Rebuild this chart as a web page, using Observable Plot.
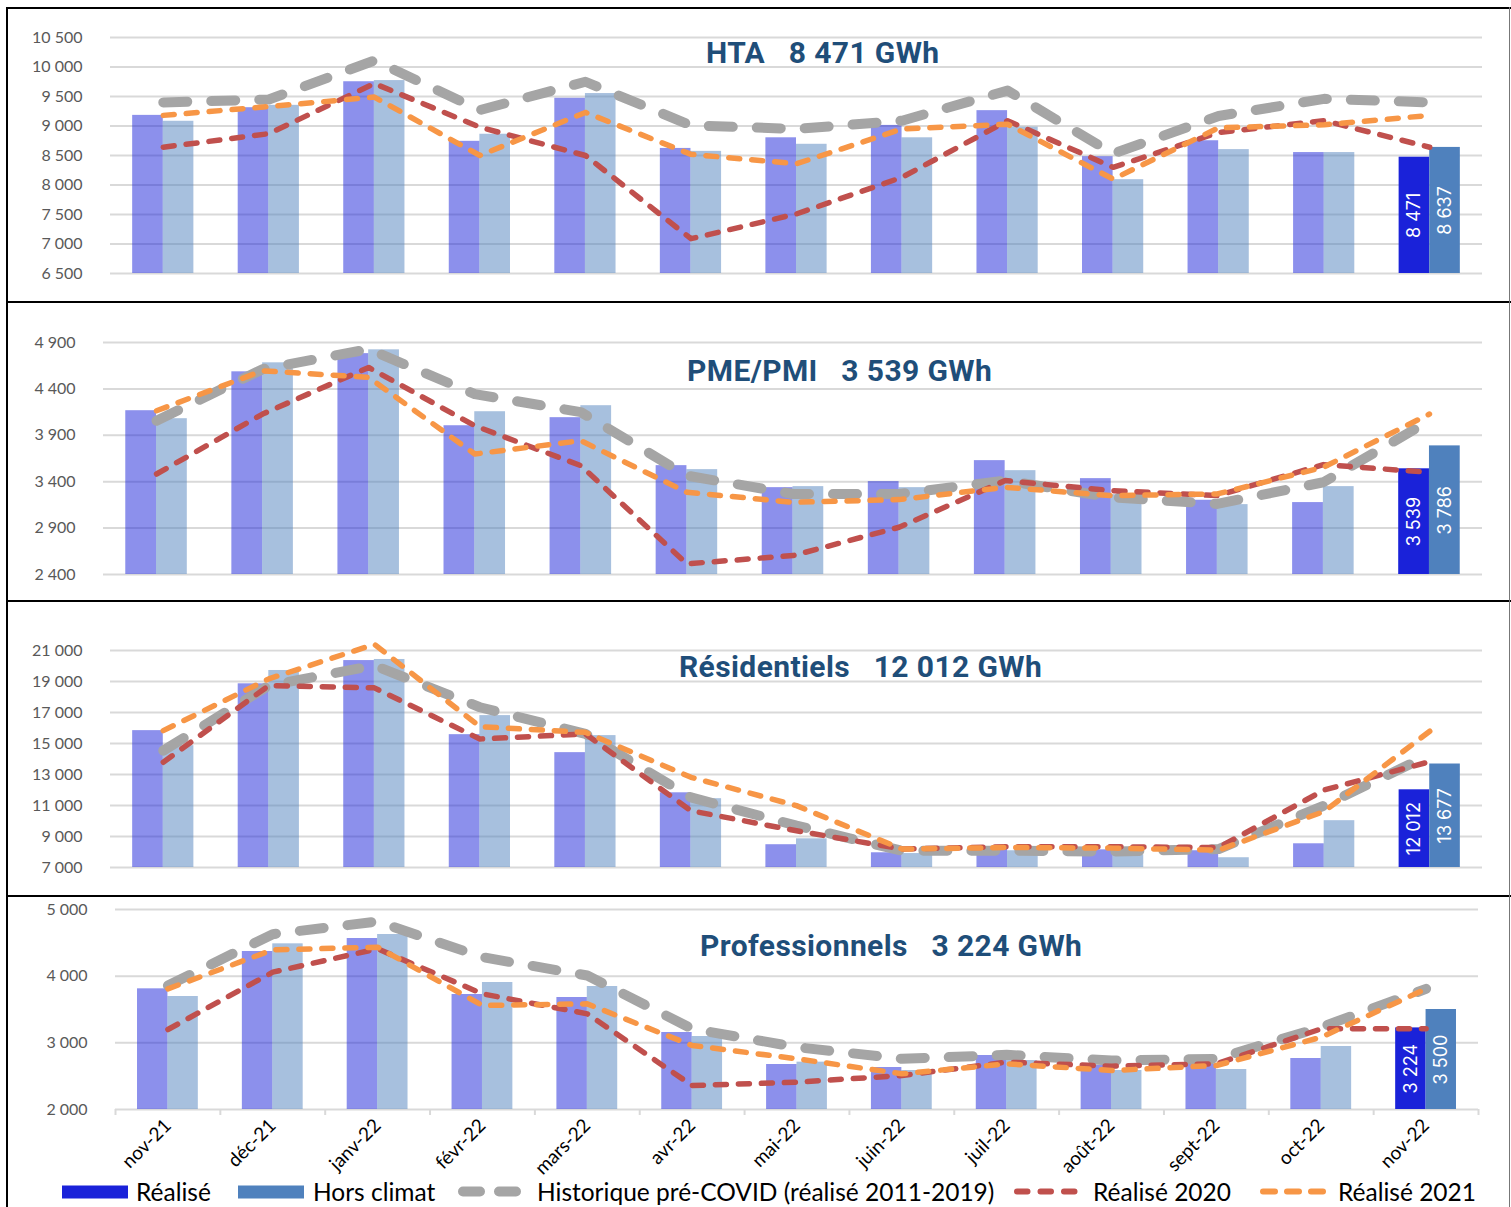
<!DOCTYPE html>
<html>
<head>
<meta charset="utf-8">
<script src="https://cdn.jsdelivr.net/npm/d3@7"></script>
<script src="https://cdn.jsdelivr.net/npm/@observablehq/plot@0.6"></script>
<style>
  body { margin: 0; background: #fff; }
  #wrap { position: relative; width: 1511px; height: 1207px; overflow: hidden; font-family: Lato, sans-serif; background:#fff; }
  .panel { position: absolute; left: 0; }
  .title { position: absolute; font-family: Roboto, sans-serif; font-weight: 700; font-size: 30px; color: #1F4E79; white-space: pre; transform: translateY(-50%); line-height: 1; letter-spacing: 0.4px; }
  .hline { position: absolute; background: #000; }
  .leg { position: absolute; font-family: Lato, sans-serif; font-size: 24.5px; color: #000; line-height: 1; transform: translateY(-50%); white-space: pre; }
  .sw { position: absolute; transform: translateY(-50%); }
</style>
</head>
<body>
<div id="wrap"></div>
<script>
// ---------- DATA ----------
const months = ["nov-21","déc-21","janv-22","févr-22","mars-22","avr-22","mai-22","juin-22","juil-22","août-22","sept-22","oct-22","nov-22"];
const segments = ["HTA", "PME/PMI", "Résidentiels", "Professionnels"];
const seriesNames = ["Réalisé", "Hors climat", "Historique pré-COVID (réalisé 2011-2019)", "Réalisé 2020", "Réalisé 2021"];

// HTA
const htaRealise     = [9180, 9310, 9750, 8740, 9470, 8620, 8800, 9010, 9260, 8480, 8750, 8550, 8471];
const htaHorsClimat  = [9080, 9350, 9770, 8860, 9550, 8570, 8690, 8800, 8980, 8090, 8600, 8550, 8637];
const htaHistorique  = [9400, 9450, 10110, 9270, 9750, 9010, 8950, 9090, 9600, 8530, 9170, 9460, 9400];
const htaRealise2020 = [8640, 8870, 9720, 8980, 8500, 7090, 7510, 8130, 9090, 8300, 8890, 9090, 8640];
const htaRealise2021 = [9180, 9330, 9490, 8500, 9230, 8520, 8360, 8950, 9030, 8100, 8970, 9020, 9180];
const htaTicks = [6500, 7000, 7500, 8000, 8500, 9000, 9500, 10000, 10500];

// PME/PMI
const pmeRealise     = [4165, 4584, 4780, 4003, 4090, 3573, 3336, 3401, 3627, 3433, 3200, 3175, 3539];
const pmeHorsClimat  = [4079, 4681, 4821, 4154, 4219, 3530, 3347, 3336, 3519, 3260, 3153, 3347, 3786];
const pmeHistorique  = [4057, 4613, 4828, 4344, 4150, 3465, 3268, 3268, 3412, 3232, 3160, 3394, 4057];
const pmeRealise2020 = [3483, 4129, 4631, 4003, 3573, 2515, 2604, 2909, 3412, 3304, 3250, 3584, 3501];
const pmeRealise2021 = [4165, 4595, 4524, 3698, 3842, 3286, 3178, 3207, 3340, 3250, 3268, 3555, 4129];
const pmeTicks = [2400, 2900, 3400, 3900, 4400, 4900];

// Résidentiels
const resRealise     = [15830, 18850, 20350, 15570, 14410, 11820, 8470, 7950, 8290, 8140, 8080, 8530, 12012];
const resHorsClimat  = [14860, 19710, 20420, 16800, 15510, 11440, 8850, 7900, 8080, 7820, 7630, 10020, 13677];
const resHistorique  = [14540, 18740, 20030, 17340, 15620, 11520, 9700, 8080, 8080, 8030, 8190, 11000, 14280];
const resRealise2020 = [13790, 18740, 18590, 15290, 15620, 10660, 9370, 8190, 8340, 8340, 8290, 12000, 13830];
const resRealise2021 = [15830, 19170, 21400, 16090, 15720, 12820, 10990, 8190, 8290, 8250, 8120, 10620, 15790];
const resTicks = [7000, 9000, 11000, 13000, 15000, 17000, 19000, 21000];

// Professionnels
const proRealise     = [3810, 4370, 4565, 3725, 3680, 3155, 2675, 2630, 2810, 2660, 2685, 2765, 3224];
const proHorsClimat  = [3695, 4485, 4625, 3905, 3845, 3095, 2710, 2585, 2735, 2585, 2600, 2945, 3500];
const proHistorique  = [3860, 4630, 4820, 4285, 4010, 3210, 2935, 2760, 2820, 2735, 2760, 3235, 3810];
const proRealise2020 = [3200, 4060, 4410, 3735, 3435, 2360, 2410, 2510, 2710, 2650, 2685, 3210, 3210];
const proRealise2021 = [3810, 4395, 4435, 3560, 3585, 2960, 2760, 2535, 2685, 2585, 2660, 3085, 3810];
const proTicks = [2000, 3000, 4000, 5000];

// ---------- STYLE ----------
const C_REAL = "#1A22D9", C_HC = "#4F81BD", C_HIST = "#A5A5A5", C_2020 = "#C0504D", C_2021 = "#F79646";
const fmtTick = d3.formatLocale({decimal: ",", thousands: "\u202f", grouping: [3], currency: ["", ""]}).format(",d");
const fmtLab = d3.formatLocale({decimal: ",", thousands: "\u00a0", grouping: [3], currency: ["", ""]}).format(",d");

const panels = [
  {name: segments[0], r: htaRealise, hc: htaHorsClimat, hist: htaHistorique, r20: htaRealise2020, r21: htaRealise2021, ticks: htaTicks,
   top: 9, height: 293, mt: 28, mb: 29, ml: 110, mr: 29, tx: 706, ty: 53},
  {name: segments[1], r: pmeRealise, hc: pmeHorsClimat, hist: pmeHistorique, r20: pmeRealise2020, r21: pmeRealise2021, ticks: pmeTicks,
   top: 303, height: 298, mt: 39, mb: 27, ml: 103, mr: 29, tx: 687, ty: 371},
  {name: segments[2], r: resRealise, hc: resHorsClimat, hist: resHistorique, r20: resRealise2020, r21: resRealise2021, ticks: resTicks,
   top: 602, height: 294, mt: 48, mb: 29, ml: 110, mr: 29, tx: 679, ty: 667},
  {name: segments[3], r: proRealise, hc: proHorsClimat, hist: proHistorique, r20: proRealise2020, r21: proRealise2021, ticks: proTicks,
   top: 897, height: 310, mt: 12, mb: 98, ml: 115, mr: 33, tx: 700, ty: 946, xaxis: true}
];

const wrap = document.getElementById("wrap");
const n = months.length;
const idx = d3.range(n);
const BW = 0.29;

panels.forEach(p => {
  const base = p.ticks[0];
  const old = idx.slice(0, n - 1), last = [n - 1];
  const lineOpts = (stroke, w, dash) => ({x: (d, i) => i, y: d => d, stroke, strokeWidth: w, strokeDasharray: dash, strokeLinecap: "round", strokeLinejoin: "round"});
  const marks = [
    Plot.ruleY(p.ticks, {stroke: "#D9D9D9", strokeWidth: 2}),
    Plot.rect(old, {x1: i => i - BW, x2: i => i, y1: base, y2: i => p.r[i], fill: C_REAL, fillOpacity: 0.5}),
    Plot.rect(old, {x1: i => i, x2: i => i + BW, y1: base, y2: i => p.hc[i], fill: C_HC, fillOpacity: 0.5}),
    Plot.rect(last, {x1: i => i - BW, x2: i => i, y1: base, y2: i => p.r[i], fill: C_REAL}),
    Plot.rect(last, {x1: i => i, x2: i => i + BW, y1: base, y2: i => p.hc[i], fill: C_HC}),
    Plot.line(p.hist, lineOpts(C_HIST, 10, "24,24")),
    Plot.line(p.r20, lineOpts(C_2020, 5.5, "11,12")),
    Plot.line(p.r21, lineOpts(C_2021, 5.5, "11,12")),
    Plot.text(last, {x: i => i - BW / 2, y: i => (base + p.r[i]) / 2, text: i => fmtLab(p.r[i]), rotate: -90, fill: "white", fontSize: 18, fontFamily: "Inter, sans-serif"}),
    Plot.text(last, {x: i => i + BW / 2, y: i => (base + p.hc[i]) / 2, text: i => fmtLab(p.hc[i]), rotate: -90, fill: "white", fontSize: 18, fontFamily: "Inter, sans-serif"})
  ];
  if (p.xaxis) {
    marks.splice(1, 0, Plot.ruleX(d3.range(n + 1).map(i => i - 0.5), {x: d => d, y1: base, y2: base, insetBottom: -6, stroke: "#D9D9D9", strokeWidth: 2}));
  }
  const chart = Plot.plot({
    width: 1511, height: p.height,
    marginTop: p.mt, marginBottom: p.mb, marginLeft: p.ml, marginRight: p.mr,
    style: {fontFamily: "Lato, sans-serif", fontSize: "16px", color: "#595959", background: "transparent"},
    x: p.xaxis
      ? {domain: [-0.5, n - 0.5], ticks: idx, tickFormat: i => months[i], tickSize: 0, tickPadding: 13, tickRotate: -45, label: null}
      : {domain: [-0.5, n - 0.5], axis: null},
    y: {domain: [p.ticks[0], p.ticks[p.ticks.length - 1]], ticks: p.ticks, tickFormat: fmtTick, tickSize: 0, tickPadding: 28, label: null},
    marks
  });
  chart.classList.add("panel");
  chart.style.top = p.top + "px";
  wrap.appendChild(chart);

  const t = document.createElement("div");
  t.className = "title";
  t.style.left = p.tx + "px";
  t.style.top = p.ty + "px";
  t.textContent = p.name + "   " + fmtLab(p.r[n - 1]) + " GWh";
  wrap.appendChild(t);
});

// x-axis label colour / size
d3.select(wrap).selectAll("svg").each(function () {
  d3.select(this).selectAll("g[aria-label^='x-axis'] text").attr("fill", "#000").style("font-size", "19px");
});

// Frame lines
function line(l, t, w, h, c) {
  const d = document.createElement("div");
  d.className = "hline";
  Object.assign(d.style, {left: l + "px", top: t + "px", width: w + "px", height: h + "px", background: c || "#000"});
  wrap.appendChild(d);
}
line(6, 7, 1505, 2);
line(6, 7, 2, 1200);
line(6, 301, 1505, 2);
line(6, 600, 1505, 2);
line(6, 895, 1505, 2);
line(1509, 7, 1, 1200, "#777");

// Legend
const LY = 1192;
function sw(left, html) {
  const s = document.createElement("div");
  s.className = "sw";
  s.style.left = left + "px";
  s.style.top = LY + "px";
  s.innerHTML = html;
  wrap.appendChild(s);
}
function lt(left, txt) {
  const s = document.createElement("div");
  s.className = "leg";
  s.style.left = left + "px";
  s.style.top = LY + "px";
  s.textContent = txt;
  wrap.appendChild(s);
}
sw(62, `<div style="width:66px;height:13px;background:${C_REAL}"></div>`);
lt(136, seriesNames[0]);
sw(238, `<div style="width:66px;height:13px;background:${C_HC}"></div>`);
lt(313, seriesNames[1]);
sw(458, `<svg width="66" height="14"><line x1="5" x2="61" y1="7" y2="7" stroke="${C_HIST}" stroke-width="10" stroke-dasharray="17,19" stroke-linecap="round"/></svg>`);
lt(537, seriesNames[2]);
sw(1014, `<svg width="66" height="14"><line x1="3" x2="63" y1="7" y2="7" stroke="${C_2020}" stroke-width="6" stroke-dasharray="10.5,13" stroke-linecap="round"/></svg>`);
lt(1093, seriesNames[3]);
sw(1260, `<svg width="66" height="14"><line x1="3" x2="63" y1="7" y2="7" stroke="${C_2021}" stroke-width="6" stroke-dasharray="12,12" stroke-linecap="round"/></svg>`);
lt(1338, seriesNames[4]);
</script>
</body>
</html>
